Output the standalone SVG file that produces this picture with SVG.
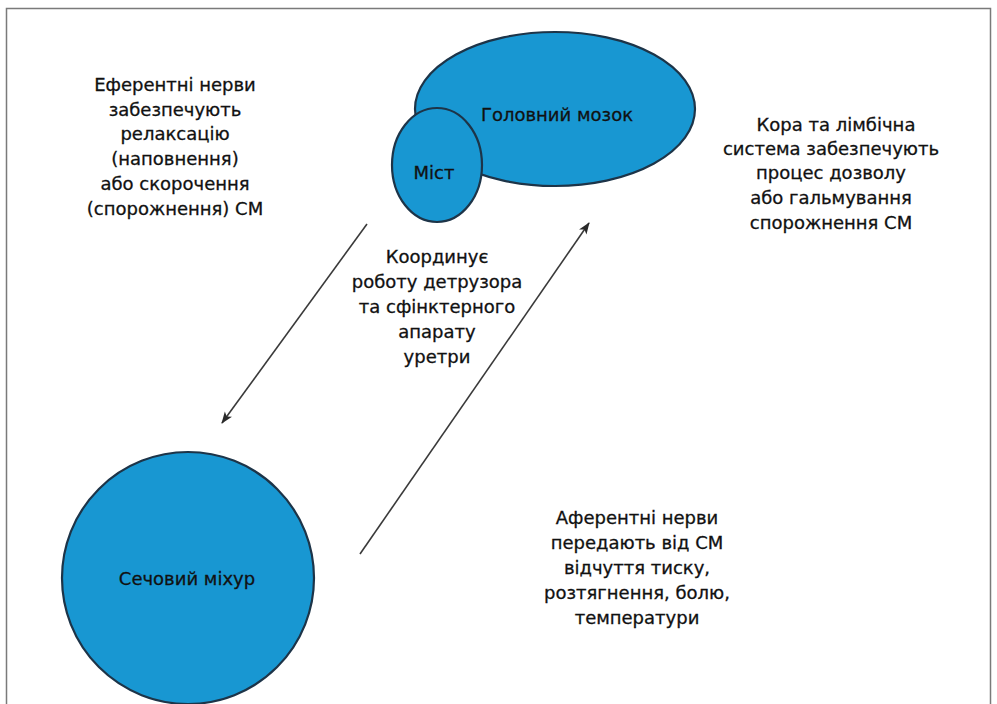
<svg xmlns="http://www.w3.org/2000/svg" width="997" height="704" viewBox="0 0 997 704">
  <style>
    .organ { fill: #1897d2; stroke: #1d3448; stroke-width: 2.2; }
    .lbl { font-family: "DejaVu Sans", "Liberation Sans", sans-serif; font-size: 18px; fill: #111; stroke: #111; stroke-width: 0.3; text-anchor: middle; }
    .conn { stroke: #3a3a3a; stroke-width: 1.6; fill: none; }
  </style>
  <defs>
    <marker id="head" viewBox="0 0 12 10" refX="11" refY="5" markerWidth="12" markerHeight="10" markerUnits="userSpaceOnUse" orient="auto">
      <path d="M0,0.5 L12,5 L0,9.5 L3,5 Z" fill="#2a2a2a"/>
    </marker>
  </defs>
  <rect x="0" y="0" width="997" height="704" fill="#fff"/>
  <rect x="6.5" y="8.5" width="984" height="710" fill="none" stroke="#7a7a7a" stroke-width="1.5"/>

  <g id="brain">
    <ellipse class="organ" cx="555" cy="109" rx="140" ry="77"/>
    <text class="lbl" x="557" y="121">Головний мозок</text>
  </g>
  <g id="pons">
    <ellipse class="organ" cx="437" cy="165" rx="45" ry="57"/>
    <text class="lbl" x="434" y="179">Міст</text>
  </g>
  <g id="bladder">
    <circle class="organ" cx="188" cy="578" r="126"/>
    <text class="lbl" x="187" y="585">Сечовий міхур</text>
  </g>

  <g id="connectors">
    <line class="conn" x1="367" y1="224" x2="222" y2="423" marker-end="url(#head)"/>
    <line class="conn" x1="360" y1="554" x2="589" y2="223" marker-end="url(#head)"/>
  </g>

  <g id="efferent-note">
    <text class="lbl" x="175" y="91">Еферентні нерви</text>
    <text class="lbl" x="175" y="116">забезпечують</text>
    <text class="lbl" x="175" y="140">релаксацію</text>
    <text class="lbl" x="175" y="165">(наповнення)</text>
    <text class="lbl" x="175" y="190">або скорочення</text>
    <text class="lbl" x="175" y="215">(спорожнення) СМ</text>
  </g>
  <g id="cortex-note">
    <text class="lbl" x="836" y="131">Кора та лімбічна</text>
    <text class="lbl" x="831" y="155">система забезпечують</text>
    <text class="lbl" x="831" y="179">процес дозволу</text>
    <text class="lbl" x="831" y="204">або гальмування</text>
    <text class="lbl" x="831" y="229">спорожнення СМ</text>
  </g>
  <g id="pons-note">
    <text class="lbl" x="437" y="263">Координує</text>
    <text class="lbl" x="437" y="288">роботу детрузора</text>
    <text class="lbl" x="437" y="313">та сфінктерного</text>
    <text class="lbl" x="437" y="338">апарату</text>
    <text class="lbl" x="437" y="363">уретри</text>
  </g>
  <g id="afferent-note">
    <text class="lbl" x="637" y="524">Аферентні нерви</text>
    <text class="lbl" x="637" y="549">передають від СМ</text>
    <text class="lbl" x="637" y="574">відчуття тиску,</text>
    <text class="lbl" x="637" y="599">розтягнення, болю,</text>
    <text class="lbl" x="637" y="624">температури</text>
  </g>
</svg>
